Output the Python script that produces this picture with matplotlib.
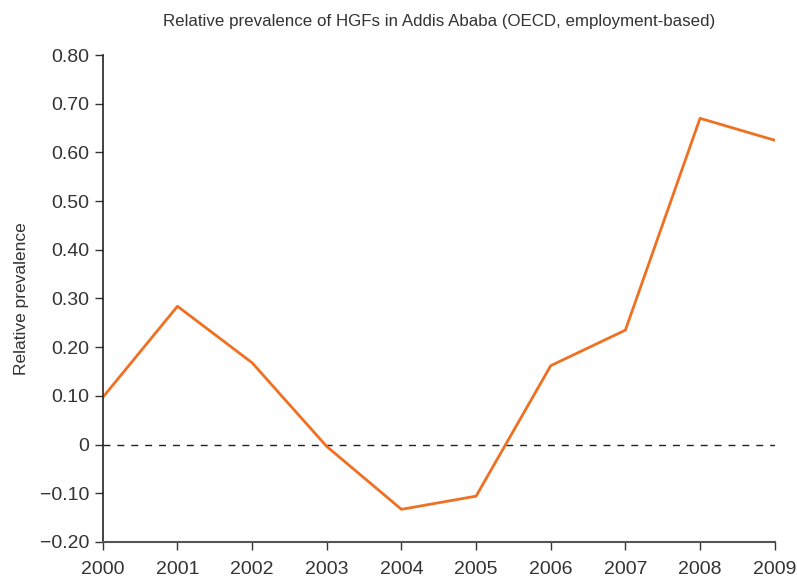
import matplotlib
matplotlib.use("Agg")
import matplotlib.pyplot as plt
from matplotlib.ticker import FixedLocator

plt.rcParams["font.family"] = ["Liberation Sans", "DejaVu Sans"]

years = [2000, 2001, 2002, 2003, 2004, 2005, 2006, 2007, 2008, 2009]
prevalence = [0.097, 0.284, 0.168, -0.004, -0.133, -0.106, 0.162, 0.235, 0.670, 0.625]
yticks = [-0.20, -0.10, 0, 0.10, 0.20, 0.30, 0.40, 0.50, 0.60, 0.70, 0.80]
ytick_labels = ["\u22120.20", "\u22120.10", "0", "0.10", "0.20", "0.30",
                "0.40", "0.50", "0.60", "0.70", "0.80"]


def main():
    fig = plt.figure(figsize=(7.97, 5.79), dpi=100)
    ax = fig.add_axes([0.129, 0.064, 0.843, 0.841])

    ax.axhline(0, color="#222222", linestyle=(0, (5, 5)), linewidth=1.0)
    ax.plot(years, prevalence, color="#F07022", linewidth=2.0)

    ax.set_xlim(2000, 2009)
    ax.set_ylim(-0.20, 0.80)
    ax.xaxis.set_major_locator(FixedLocator(years))
    ax.set_xticklabels([str(y) for y in years])
    ax.yaxis.set_major_locator(FixedLocator(yticks))
    ax.set_yticklabels(ytick_labels)

    for side in ["top", "right"]:
        ax.spines[side].set_visible(False)
    ax.spines["left"].set_color("#222222")
    ax.spines["bottom"].set_color("#555555")
    ax.spines["left"].set_linewidth(1.2)
    ax.spines["bottom"].set_linewidth(1.5)

    ax.tick_params(axis="both", labelsize=14, colors="#333333", length=6,
                   width=1.0, direction="out")
    ax.tick_params(axis="x", pad=8)

    ax.set_ylabel("Relative prevalence", fontsize=12.5, color="#333333", labelpad=8)
    ax.set_title("Relative prevalence of HGFs in Addis Ababa (OECD, employment-based)",
                 fontsize=12.2, color="#333333", pad=21)

    fig.savefig("out.png", dpi=100)
    plt.close(fig)


if __name__ == "__main__":
    main()
